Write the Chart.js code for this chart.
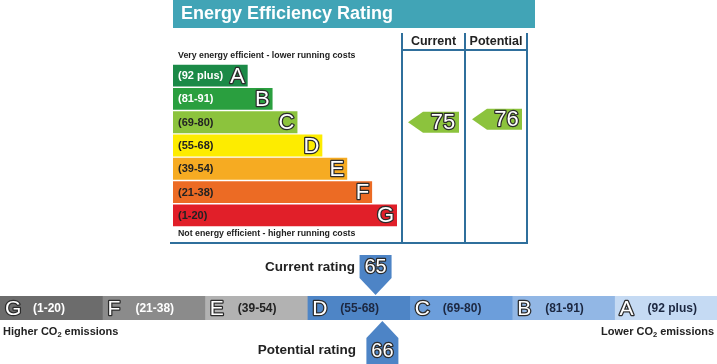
<!DOCTYPE html>
<html>
<head>
<meta charset="utf-8">
<script src="https://cdn.jsdelivr.net/npm/chart.js@4.4.0/dist/chart.umd.min.js"></script>
<style>
  body { margin: 0; background: #fff; }
  #wrap { position: relative; width: 717px; height: 364px; overflow: hidden; }
  canvas { position: absolute; left: 0; }
  #eeChart { top: 0; }
  #co2Chart { top: 250px; }
</style>
</head>
<body>
<div id="wrap">
  <canvas id="eeChart" width="717" height="250"></canvas>
  <canvas id="co2Chart" width="717" height="114"></canvas>
</div>
<script>
'use strict';

// energy efficiency bands (top chart)
let bandLetters = ['A', 'B', 'C', 'D', 'E', 'F', 'G'];
let bandRanges = ['(92 plus)', '(81-91)', '(69-80)', '(55-68)', '(39-54)', '(21-38)', '(1-20)'];
let bandLows = [92, 81, 69, 55, 39, 21, 1];
let bandHighs = [100, 91, 80, 68, 54, 38, 20];
let bandLengths = [3, 4, 5, 6, 7, 8, 9];
let currentEE = 75;
let potentialEE = 76;

// co2 strip (bottom chart)
let co2Letters = ['G', 'F', 'E', 'D', 'C', 'B', 'A'];
let co2Ranges = ['(1-20)', '(21-38)', '(39-54)', '(55-68)', '(69-80)', '(81-91)', '(92 plus)'];
let co2Lows = [1, 21, 39, 55, 69, 81, 92];
let co2Highs = [20, 38, 54, 68, 80, 91, 100];
let currentCO2 = 65;
let potentialCO2 = 66;

let eeColors = ['#1b8a47', '#2a9f3f', '#8cc33d', '#fdec00', '#f6ab22', '#ec6b24', '#e11f29'];
let eeLabelColors = ['#fff', '#fff', '#222', '#222', '#222', '#222', '#222'];
let co2Colors = ['#6c6c6c', '#8b8b8b', '#b2b2b2', '#4e85c6', '#6c9edb', '#92b7e5', '#c5daf3'];
let co2LabelColors = ['#fff', '#fff', '#222', '#1c2740', '#1c2740', '#1c2740', '#1c2740'];

let FONT = '"Liberation Sans", Arial, sans-serif';
let LINE = '#2f6f9c';

function bandIndex(rating) {
    for (let i = 0; i < bandLows.length; i++) {
        if (rating >= bandLows[i] && rating <= bandHighs[i]) return i;
    }
    return bandLows.length - 1;
}

function outlinedText(ctx, txt, x, y, size, align) {
    ctx.font = size + 'px ' + FONT;
    ctx.textAlign = align;
    ctx.textBaseline = 'middle';
    ctx.lineJoin = 'round';
    ctx.lineWidth = 2.5;
    ctx.strokeStyle = '#2b2b2b';
    ctx.strokeText(txt, x, y);
    ctx.fillStyle = '#fff';
    ctx.fillText(txt, x, y);
}

function leftArrow(ctx, left, right, yc, h, color, txt) {
    ctx.fillStyle = color;
    ctx.beginPath();
    ctx.moveTo(left, yc);
    ctx.lineTo(left + 15, yc - h / 2);
    ctx.lineTo(right, yc - h / 2);
    ctx.lineTo(right, yc + h / 2);
    ctx.lineTo(left + 15, yc + h / 2);
    ctx.closePath();
    ctx.fill();
    outlinedText(ctx, txt, (left + 15 + right) / 2 + 2, yc + 1, 22, 'center');
}

let eePlugin = {
    id: 'eeDecor',
    afterDatasetsDraw(chart) {
        let ctx = chart.ctx;
        let yScale = chart.scales.y;
        let meta = chart.getDatasetMeta(0);
        ctx.save();

        // header
        ctx.fillStyle = '#41a4b6';
        ctx.fillRect(173, 0, 362, 28);
        ctx.fillStyle = '#fff';
        ctx.font = 'bold 18px ' + FONT;
        ctx.textAlign = 'left';
        ctx.textBaseline = 'middle';
        ctx.fillText('Energy Efficiency Rating', 181, 14);

        // columns
        ctx.strokeStyle = LINE;
        ctx.lineWidth = 2;
        ctx.beginPath();
        [402, 465, 527].forEach(function (x) {
            ctx.moveTo(x, 33);
            ctx.lineTo(x, 243);
        });
        ctx.moveTo(402, 50);
        ctx.lineTo(527, 50);
        ctx.moveTo(170, 243);
        ctx.lineTo(528, 243);
        ctx.stroke();

        ctx.fillStyle = '#222';
        ctx.font = 'bold 12.5px ' + FONT;
        ctx.textAlign = 'center';
        ctx.fillText('Current', 433.5, 42);
        ctx.fillText('Potential', 496, 42);

        ctx.font = 'bold 8.8px ' + FONT;
        ctx.textAlign = 'left';
        ctx.fillText('Very energy efficient - lower running costs', 178, 56);
        ctx.fillText('Not energy efficient - higher running costs', 178, 234);

        // band labels
        for (let i = 0; i < bandLetters.length; i++) {
            let bar = meta.data[i];
            ctx.fillStyle = eeLabelColors[i];
            ctx.font = 'bold 11px ' + FONT;
            ctx.textAlign = 'left';
            ctx.textBaseline = 'middle';
            ctx.fillText(bandRanges[i], 178, bar.y + 0.5);
            outlinedText(ctx, bandLetters[i], bar.x - 3, bar.y + 1, 22, 'right');
        }

        // current / potential arrows
        let ci = bandIndex(currentEE);
        let pi = bandIndex(potentialEE);
        leftArrow(ctx, 408, 459, yScale.getPixelForValue(ci), 21, eeColors[ci], String(currentEE));
        leftArrow(ctx, 472, 522, yScale.getPixelForValue(pi) - 3, 21, eeColors[pi], String(potentialEE));
        ctx.restore();
    }
};

new Chart(document.getElementById('eeChart'), {
    type: 'bar',
    data: {
        labels: bandLetters,
        datasets: [{
            data: bandLengths,
            backgroundColor: eeColors,
            borderWidth: 0,
            barPercentage: 0.94,
            categoryPercentage: 1
        }]
    },
    options: {
        indexAxis: 'y',
        responsive: false,
        animation: false,
        devicePixelRatio: 1,
        layout: { padding: { left: 173, right: 320, top: 64, bottom: 23 } },
        plugins: { legend: { display: false }, tooltip: { enabled: false } },
        scales: {
            x: { display: false, min: 0, max: 9 },
            y: { display: false }
        }
    },
    plugins: [eePlugin]
});

// where inside its band a rating sits (marker tip position)
function co2Pos(rating) {
    for (let i = 0; i < co2Lows.length; i++) {
        if (rating >= co2Lows[i] && rating <= co2Highs[i]) {
            return i + (rating - co2Lows[i]) / (co2Highs[i] - co2Lows[i] + 2);
        }
    }
    return 0;
}

function co2Text(ctx, txt, x, y, align) {
    // "CO2" with a small subscript 2
    ctx.fillStyle = '#222';
    ctx.textBaseline = 'middle';
    let parts = txt.split('CO2');
    let big = 'bold 11px ' + FONT;
    let small = 'bold 7.5px ' + FONT;
    ctx.font = big;
    let w0 = ctx.measureText(parts[0] + 'CO').width;
    let w2 = ctx.measureText(parts[1]).width;
    ctx.font = small;
    let wSub = ctx.measureText('2').width;
    let total = w0 + wSub + w2;
    let sx = align === 'right' ? x - total : x;
    ctx.textAlign = 'left';
    ctx.font = big;
    ctx.fillText(parts[0] + 'CO', sx, y);
    ctx.font = small;
    ctx.fillText('2', sx + w0, y + 3);
    ctx.font = big;
    ctx.fillText(parts[1], sx + w0 + wSub, y);
}

let co2Plugin = {
    id: 'co2Decor',
    afterDatasetsDraw(chart) {
        let ctx = chart.ctx;
        let xScale = chart.scales.x;
        let area = chart.chartArea;
        let yc = (area.top + area.bottom) / 2;
        ctx.save();

        for (let i = 0; i < co2Letters.length; i++) {
            let x0 = xScale.getPixelForValue(i);
            outlinedText(ctx, co2Letters[i], x0 + 5, yc + 1, 21, 'left');
            ctx.fillStyle = co2LabelColors[i];
            ctx.font = 'bold 12px ' + FONT;
            ctx.textAlign = 'left';
            ctx.fillText(co2Ranges[i], x0 + 33, yc + 0.5);
        }

        co2Text(ctx, 'Higher CO2 emissions', 3, 82, 'left');
        co2Text(ctx, 'Lower CO2 emissions', 714, 82, 'right');

        let markColor = '#4d84c6';
        // current marker pointing down
        let cx = xScale.getPixelForValue(co2Pos(currentCO2));
        ctx.fillStyle = markColor;
        ctx.beginPath();
        ctx.moveTo(cx - 16, 5);
        ctx.lineTo(cx + 16, 5);
        ctx.lineTo(cx + 16, 28);
        ctx.lineTo(cx, area.top - 1);
        ctx.lineTo(cx - 16, 28);
        ctx.closePath();
        ctx.fill();
        outlinedText(ctx, String(currentCO2), cx, 17, 20, 'center');

        // potential marker pointing up
        let px = xScale.getPixelForValue(co2Pos(potentialCO2));
        ctx.fillStyle = markColor;
        ctx.beginPath();
        ctx.moveTo(px, area.bottom + 1);
        ctx.lineTo(px + 16, 88);
        ctx.lineTo(px + 16, 114);
        ctx.lineTo(px - 16, 114);
        ctx.lineTo(px - 16, 88);
        ctx.closePath();
        ctx.fill();
        outlinedText(ctx, String(potentialCO2), px, 101, 20, 'center');

        ctx.fillStyle = '#222';
        ctx.font = 'bold 13.5px ' + FONT;
        ctx.textAlign = 'right';
        ctx.textBaseline = 'middle';
        ctx.fillText('Current rating', 355, 17);
        ctx.fillText('Potential rating', 356, 100);
        ctx.restore();
    }
};

let co2Datasets = co2Letters.map(function (l, i) {
    return {
        label: l,
        data: [1],
        backgroundColor: co2Colors[i],
        borderWidth: 0,
        barPercentage: 1,
        categoryPercentage: 1
    };
});

new Chart(document.getElementById('co2Chart'), {
    type: 'bar',
    data: { labels: ['CO2'], datasets: co2Datasets },
    options: {
        indexAxis: 'y',
        responsive: false,
        animation: false,
        devicePixelRatio: 1,
        layout: { padding: { left: 0, right: 0, top: 46, bottom: 44 } },
        plugins: { legend: { display: false }, tooltip: { enabled: false } },
        scales: {
            x: { display: false, stacked: true, min: 0, max: 7 },
            y: { display: false, stacked: true }
        }
    },
    plugins: [co2Plugin]
});
</script>
</body>
</html>
